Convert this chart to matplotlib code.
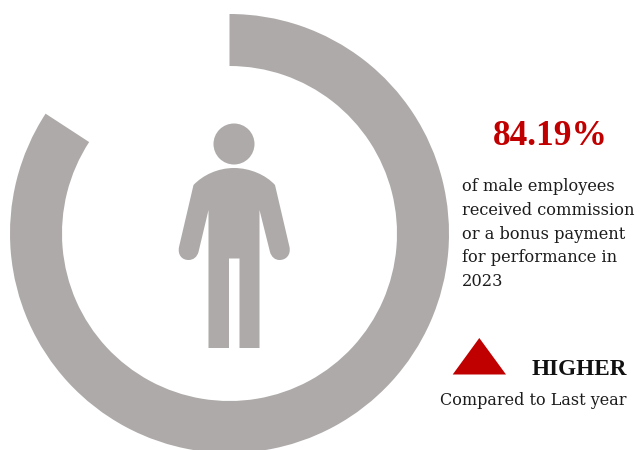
#!/usr/bin/env python3
"""
Commission / bonus share for male employees, drawn as a progress ring with a person icon.
"""
import matplotlib
matplotlib.use("Agg")
import matplotlib.pyplot as plt
from matplotlib.path import Path
from matplotlib.patches import Circle, PathPatch, Polygon

share_pct = [84.19, 100 - 84.19]
headline = "84.19%"
desc_lines = [
    "of male employees",
    "received commission",
    "or a bonus payment",
    "for performance in",
    "2023",
]
trend_word = "HIGHER"
trend_note = "Compared to Last year"

GREY = "#aeaaa9"
RED = "#c00000"
INK = "#1c1c1c"
SERIF = "DejaVu Serif"
SERIF_BOLD = "Liberation Serif"

fig = plt.figure(figsize=(6.4, 4.5), dpi=100)
ax = fig.add_axes([0, 0, 1, 1])

# ring, clockwise from 12 o'clock (y axis is flipped, so angles run clockwise)
ax.pie(share_pct, startangle=-90, counterclock=True, center=(229.5, 233.5), radius=219.5,
       colors=[GREY, "none"], wedgeprops={"width": 52, "linewidth": 0})

# person icon in figure pixels
ax.add_patch(Circle((234, 144), 20.5, fc=GREY, ec="none"))
M, L, C = Path.MOVETO, Path.LINETO, Path.CURVE4
body = [
    (M, (193.5, 185)),
    (C, (203, 175)), (C, (218, 168)), (C, (234, 168)),
    (C, (250, 168)), (C, (266, 175)), (C, (275, 185)),
    (L, (289.5, 247)),
    (C, (291, 255)), (C, (286, 260)), (C, (279.5, 260)),
    (C, (275, 260)), (C, (271.5, 257)), (C, (270, 252)),
    (L, (259.5, 210)),
    (L, (259.5, 348)), (L, (239.5, 348)), (L, (239.5, 258.5)), (L, (229, 258.5)),
    (L, (229, 348)), (L, (208.5, 348)), (L, (208.5, 210)),
    (L, (198.5, 252)),
    (C, (197, 257)), (C, (193.5, 260)), (C, (188.5, 260)),
    (C, (182, 260)), (C, (177.5, 255)), (C, (179, 247)),
    (L, (193.5, 185)),
]
codes = [c for c, _ in body]
verts = [v for _, v in body]
ax.add_patch(PathPatch(Path(verts, codes), fc=GREY, ec="none"))

ax.add_patch(Polygon([(479.3, 338), (506, 374.5), (452.7, 374.5)], fc=RED, ec="none"))

ax.text(550, 145, headline, color=RED, family=SERIF_BOLD, fontsize=25.5, fontweight="bold",
        ha="center", va="baseline")
for i, line in enumerate(desc_lines):
    ax.text(462, 191 + i * 23.8, line, color=INK, family=SERIF, fontsize=11.7,
            ha="left", va="baseline")
ax.text(627, 375, trend_word, color="#111111", family=SERIF_BOLD, fontsize=16.7, fontweight="bold",
        ha="right", va="baseline")
ax.text(626, 405, trend_note, color=INK, family=SERIF, fontsize=11.5,
        ha="right", va="baseline")

ax.set_xlim(0, 640)
ax.set_ylim(450, 0)
ax.axis("off")

fig.savefig("out.png", dpi=100)
